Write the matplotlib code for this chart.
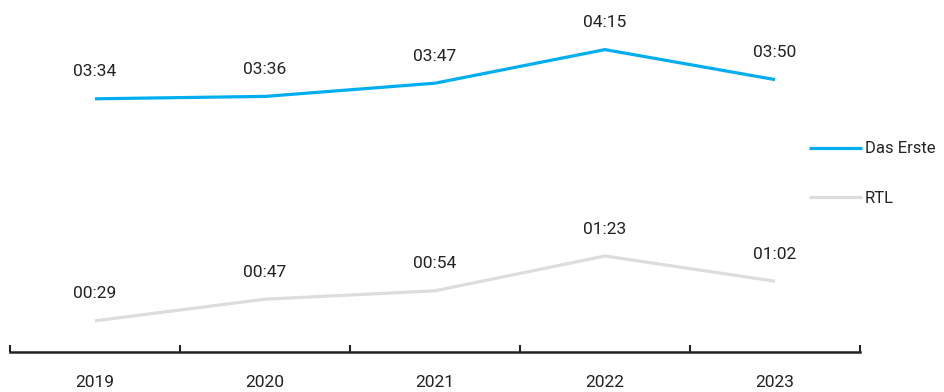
import matplotlib
matplotlib.use("Agg")
import matplotlib.pyplot as plt
from matplotlib import font_manager

years = ["2019", "2020", "2021", "2022", "2023"]
# Sehdauer in Sekunden (mm:ss)
das_erste = [3 * 60 + 34, 3 * 60 + 36, 3 * 60 + 47, 4 * 60 + 15, 3 * 60 + 50]
rtl = [0 * 60 + 29, 0 * 60 + 47, 0 * 60 + 54, 1 * 60 + 23, 1 * 60 + 2]

names = {f.name for f in font_manager.fontManager.ttflist}
fam = "Liberation Sans Narrow" if "Liberation Sans Narrow" in names else "Roboto"
plt.rcParams["font.family"] = [fam, "DejaVu Sans"]

blue = "#00aeef"
grey = "#dcdddf"
txt = "#222222"

def fmt(s):
    return "%02d:%02d" % (s // 60, s % 60)

fig = plt.figure(figsize=(9.45, 3.92), dpi=100)
ax = fig.add_axes([10 / 945, 40 / 392, 850 / 945, 344.4 / 392])

x = list(range(len(years)))
ax.plot(x, das_erste, color=blue, lw=2.3, label="Das Erste", solid_capstyle="butt")
ax.plot(x, rtl, color=grey, lw=2.3, label="RTL", solid_capstyle="butt")

for xi, v in zip(x, das_erste):
    ax.annotate(fmt(v), (xi, v), xytext=(0, 14), textcoords="offset points",
                ha="center", va="bottom", fontsize=12.5, color=txt)
for xi, v in zip(x, rtl):
    ax.annotate(fmt(v), (xi, v), xytext=(0, 14), textcoords="offset points",
                ha="center", va="bottom", fontsize=12.5, color=txt)

ax.set_xlim(-0.5, 4.5)
ax.set_ylim(3, 290)
ax.set_xticks([i - 0.5 for i in range(6)])
ax.set_xticklabels([])
ax.set_xticks(x, minor=True)
ax.set_xticklabels(years, minor=True, fontsize=12.5, color=txt)
ax.tick_params(axis="x", which="major", direction="in", length=5, width=1.5, color=txt)
ax.tick_params(axis="x", which="minor", length=0, pad=16.5)
ax.set_yticks([])
for s in ["top", "right", "left"]:
    ax.spines[s].set_visible(False)
ax.spines["bottom"].set_linewidth(1.8)
ax.spines["bottom"].set_color(txt)

leg = fig.legend(loc="center left", bbox_to_anchor=(809 / 945, 1 - 173.5 / 392),
                 frameon=False, fontsize=12, handlelength=3.2, handletextpad=0.15,
                 labelspacing=2.05, borderpad=0, borderaxespad=0)
for t in leg.get_texts():
    t.set_color(txt)

fig.savefig("out.png", dpi=100)
